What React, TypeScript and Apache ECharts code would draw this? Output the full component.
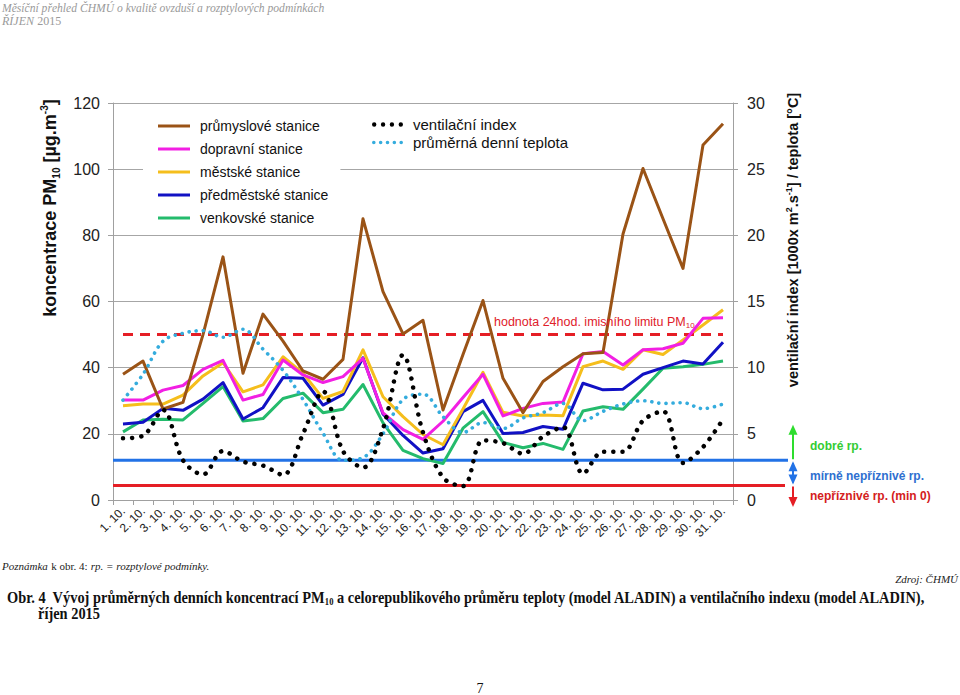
import React, { useEffect, useRef } from 'react';
import * as echarts from 'echarts';

const days = [
  '1. 10.', '2. 10.', '3. 10.', '4. 10.', '5. 10.', '6. 10.', '7. 10.', '8. 10.', '9. 10.', '10. 10.',
  '11. 10.', '12. 10.', '13. 10.', '14. 10.', '15. 10.', '16. 10.', '17. 10.', '18. 10.', '19. 10.', '20. 10.',
  '21. 10.', '22. 10.', '23. 10.', '24. 10.', '25. 10.', '26. 10.', '27. 10.', '28. 10.', '29. 10.', '30. 10.', '31. 10.',
];

// PM10 concentrations [µg.m-3] (left axis)
const prumyslove = [38, 42, 27.5, 29.5, 50, 73.5, 38.3, 56.2, 48, 39, 36.5, 42.5, 85, 63, 50.2, 54.3, 27.2, 44, 60.3, 36.8, 26.4, 35.8, 40.3, 44.2, 44.6, 80.4, 100.2, 85, 70, 107.3, 113.7];
const dopravni = [30.2, 30.2, 33.2, 34.6, 39.5, 42.2, 30.2, 31.9, 42.3, 37.8, 35.5, 37.3, 42.8, 26.3, 21.3, 18.3, 23.8, 31, 38, 25.4, 27.7, 29.2, 29.6, 44.2, 44.9, 40.8, 45.4, 45.7, 47.4, 54.9, 55.1];
const mestske = [28.5, 29, 29, 31.7, 37.5, 41.5, 32.7, 34.8, 43.3, 38.3, 30.7, 32.8, 45.4, 31.2, 25.2, 19.8, 16.7, 27.5, 38.6, 26.5, 25.4, 25.7, 25.5, 40.3, 42, 39.5, 45.4, 44, 48.4, 52.9, 57.5];
const predmestske = [23, 23.5, 27.7, 27.1, 30.5, 35.5, 24.5, 27.9, 37, 36.8, 28.7, 31.9, 43, 26, 19.5, 14.2, 15.5, 26.7, 30.1, 20.1, 20.4, 22.2, 21.4, 35.3, 33.3, 33.5, 38, 40, 42, 41.1, 47.7];
const venkovske = [20.6, 24.2, 24.4, 24.2, 29.2, 34.3, 23.9, 24.6, 30.7, 32.3, 26.4, 27.4, 34.9, 23.3, 15, 12.5, 11, 21.7, 26.7, 17.4, 15.8, 17.1, 15.3, 26.9, 28.2, 27.4, 33.5, 39.8, 40.3, 41, 42];

// right axis
const ventilacniIndex = [4.66, 4.86, 6.8, 3.0, 1.93, 3.7, 2.9, 2.6, 1.9, 5.0, 8.2, 3.7, 2.45, 5.4, 10.96, 5.1, 1.7, 1.05, 4.5, 4.3, 3.5, 4.8, 5.5, 2.0, 3.65, 3.65, 6.0, 6.7, 2.8, 4.0, 6.1];
const teplota = [7.55, 9.5, 12.0, 12.6, 12.8, 12.3, 12.9, 11.4, 9.8, 7.6, 5.05, 3.0, 3.2, 5.0, 7.6, 8.0, 6.3, 5.1, 5.85, 5.4, 6.2, 6.6, 7.3, 6.0, 6.7, 7.25, 7.5, 7.3, 7.35, 6.9, 7.25];

const limitPM10 = 50;
const ventDobre = 3; // boundary good / slightly unfavourable
const ventNepriznive = 1.1; // boundary slightly unfavourable / unfavourable
const ventTop = 5;

const SANS = '"Liberation Sans", Arial, sans-serif';
const SERIF = '"Liberation Serif", "Times New Roman", serif';

const C = {
  brown: '#9A5316',
  magenta: '#F21FE3',
  yellow: '#F5BE1C',
  blue: '#1111C4',
  green: '#24BB6C',
  cyan: '#34ACDD',
  black: '#000000',
  red: '#E51E25',
  lineBlue: '#2272E6',
  arrowGreen: '#2EDD2E',
};

const dotsIcon = (n: number, r: number, w: number) => {
  const step = (w - 2 * r) / (n - 1);
  let d = 'path://';
  for (let i = 0; i < n; i++) {
    const cx = r + i * step;
    d += `M${(cx - r).toFixed(2)},${r}a${r},${r} 0 1,0 ${2 * r},0a${r},${r} 0 1,0 ${-2 * r},0Z`;
  }
  return d;
};

export default function App() {
  const ref = useRef<HTMLDivElement>(null);

  useEffect(() => {
    const chart = echarts.init(ref.current!, null, { renderer: 'svg' });
    const solid = (name: string, data: number[], color: string, z: number, extra: any = {}) => ({
      name,
      type: 'line',
      data,
      yAxisIndex: 0,
      symbol: 'none',
      z,
      lineStyle: { color, width: 3, join: 'round' },
      itemStyle: { color },
      ...extra,
    });
    const dotted = (name: string, data: number[], color: string, z: number, gap: number, w: number) => ({
      name,
      type: 'line',
      data,
      yAxisIndex: 1,
      symbol: 'none',
      smooth: 0.35,
      z,
      lineStyle: { color, width: w, type: [0.1, gap], cap: 'round' },
      itemStyle: { color },
    });

    const pmNames = ['průmyslové stanice', 'dopravní stanice', 'městské stanice', 'předměstské stanice', 'venkovské stanice'];

    chart.setOption({
      animation: false,
      textStyle: { fontFamily: SANS },
      grid: { left: 113, right: 227, top: 103, bottom: 195 },
      legend: [
        {
          data: pmNames.map((name) => ({ name, icon: 'rect' })),
          orient: 'vertical',
          left: 143,
          top: 113,
          padding: [6, 12, 6, 15],
          backgroundColor: '#ffffff',
          itemWidth: 32,
          itemHeight: 3,
          itemGap: 9,
          selectedMode: false,
          textStyle: { fontSize: 14, color: '#111', fontFamily: SANS, padding: [0, 0, 0, 5] },
        },
        {
          data: [
            { name: 'ventilační index', icon: dotsIcon(4, 2.2, 31) },
            { name: 'průměrná denní teplota', icon: dotsIcon(5, 1.8, 31) },
          ],
          orient: 'vertical',
          left: 372,
          top: 117,
          padding: 0,
          itemWidth: 31,
          itemHeight: 4.4,
          itemGap: 3,
          selectedMode: false,
          textStyle: { fontSize: 15, color: '#111', fontFamily: SANS, padding: [0, 0, 0, 5] },
        },
      ],
      xAxis: {
        type: 'category',
        data: days,
        boundaryGap: true,
        axisLine: { lineStyle: { color: '#a0a0a0', width: 1 } },
        axisTick: { show: true, length: 5, lineStyle: { color: '#a0a0a0' } },
        axisLabel: { interval: 0, rotate: 45, fontSize: 12, color: '#222', margin: 9, fontFamily: SANS },
        splitLine: { show: false },
      },
      yAxis: [
        {
          type: 'value',
          min: 0,
          max: 120,
          interval: 20,
          axisLine: { show: true, lineStyle: { color: '#a0a0a0' } },
          axisTick: { show: true, length: 5, lineStyle: { color: '#a0a0a0' } },
          axisLabel: { fontSize: 16, color: '#222', margin: 13, fontFamily: SANS },
          splitLine: { show: true, lineStyle: { color: '#a6a6a6', width: 1 } },
        },
        {
          type: 'value',
          position: 'right',
          min: 0,
          max: 30,
          interval: 5,
          axisLine: { show: true, lineStyle: { color: '#a0a0a0' } },
          axisTick: { show: true, length: 5, lineStyle: { color: '#a0a0a0' } },
          axisLabel: { fontSize: 16, color: '#222', margin: 14, fontFamily: SANS },
          splitLine: { show: false },
        },
      ],
      series: [
        solid('venkovské stanice', venkovske, C.green, 2),
        solid('předměstské stanice', predmestske, C.blue, 3),
        solid('městské stanice', mestske, C.yellow, 4),
        solid('dopravní stanice', dopravni, C.magenta, 5),
        solid('průmyslové stanice', prumyslove, C.brown, 6, {
          markLine: {
            silent: true,
            symbol: ['none', 'none'],
            label: { show: false },
            lineStyle: { color: C.red, width: 3, type: [10, 7] },
            data: [[{ coord: [0, limitPM10] }, { coord: [days.length - 1, limitPM10] }]],
          },
        }),
        dotted('průměrná denní teplota', teplota, C.cyan, 7, 7, 3.6),
        dotted('ventilační index', ventilacniIndex, C.black, 8, 9, 4.5),
      ],
    });

    const yR = (v: number) => chart.convertToPixel({ yAxisIndex: 1 }, v) as number;
    const yL = (v: number) => chart.convertToPixel({ yAxisIndex: 0 }, v) as number;
    const gridLeft = 113;
    const ax = 793;

    const yGood = yR(ventDobre);
    const yBad = yR(ventNepriznive);
    const y0 = yR(0);
    const yTop = yR(ventTop);
    const yLim = yL(limitPM10);

    const head = (tipY: number, dir: number, color: string) => ({
      type: 'polygon',
      shape: { points: [[ax, tipY], [ax - 4.5, tipY + dir * 10], [ax + 4.5, tipY + dir * 10]] },
      style: { fill: color },
      z: 10,
    });
    const shaft = (a: number, b: number, color: string) => ({
      type: 'line',
      shape: { x1: ax, y1: a, x2: ax, y2: b },
      style: { stroke: color, lineWidth: 2 },
      z: 10,
    });

    chart.setOption({
      graphic: [
        // header
        {
          type: 'text', x: 2, y: 2,
          style: { text: 'Měsíční přehled ČHMÚ o kvalitě ovzduší a rozptylových podmínkách', fontFamily: SERIF, fontStyle: 'italic', fontSize: 11.6, fill: '#9a9a9a' },
        },
        {
          type: 'text', x: 2, y: 15,
          style: {
            text: '{i|ŘÍJEN} {n|2015}',
            rich: {
              i: { fontFamily: SERIF, fontStyle: 'italic', fontSize: 12, fill: '#9a9a9a' },
              n: { fontFamily: SERIF, fontSize: 12, fill: '#9a9a9a' },
            },
          },
        },
        // axis names
        {
          type: 'text', x: 50, y: 208, rotation: Math.PI / 2,
          style: {
            text: '{a|koncentrace PM}{sub|10}{a| [µg.m}{sup|-3}{a|]}',
            align: 'center', verticalAlign: 'middle',
            rich: {
              a: { fontFamily: SANS, fontWeight: 'bold', fontSize: 18, fill: '#111', lineHeight: 22 },
              sub: { fontFamily: SANS, fontWeight: 'bold', fontSize: 10, fill: '#111', verticalAlign: 'bottom', lineHeight: 22 },
              sup: { fontFamily: SANS, fontWeight: 'bold', fontSize: 10, fill: '#111', verticalAlign: 'top', lineHeight: 22 },
            },
          },
        },
        {
          type: 'text', x: 793, y: 240, rotation: Math.PI / 2,
          style: {
            text: '{a|ventilační index [1000x m}{sup|2}{a|.s}{sup|-1}{a|] / teplota [°C]}',
            align: 'center', verticalAlign: 'middle',
            rich: {
              a: { fontFamily: SANS, fontWeight: 'bold', fontSize: 14.5, fill: '#111', lineHeight: 18 },
              sup: { fontFamily: SANS, fontWeight: 'bold', fontSize: 9, fill: '#111', verticalAlign: 'top', lineHeight: 18 },
            },
          },
        },
        // limit label
        {
          type: 'text', x: 494, y: yLim - 13,
          style: {
            text: '{a|hodnota 24hod. imisního limitu PM}{sub|10}',
            verticalAlign: 'middle',
            rich: {
              a: { fontFamily: SANS, fontSize: 12.5, fill: '#E0202A', lineHeight: 16 },
              sub: { fontFamily: SANS, fontSize: 8, fill: '#E0202A', verticalAlign: 'bottom', lineHeight: 16 },
            },
          },
          z: 10,
        },
        // ventilation thresholds
        { type: 'line', shape: { x1: gridLeft, y1: yGood, x2: 788, y2: yGood }, style: { stroke: C.lineBlue, lineWidth: 3 }, z: 1 },
        { type: 'line', shape: { x1: gridLeft, y1: yBad, x2: 785, y2: yBad }, style: { stroke: C.red, lineWidth: 3 }, z: 1 },
        // arrows
        shaft(yGood - 1, yTop - 2, C.arrowGreen),
        head(yTop - 9, 1, C.arrowGreen),
        shaft(yGood + 3, yBad - 3, C.lineBlue),
        head(yGood + 1, 1, C.lineBlue),
        head(yBad - 1, -1, C.lineBlue),
        shaft(yBad + 1, y0 - 2, C.red),
        head(y0 + 7, -1, C.red),
        {
          type: 'text', x: 810, y: yR(4.1),
          style: { text: 'dobré rp.', verticalAlign: 'middle', fontFamily: SANS, fontWeight: 'bold', fontSize: 12, fill: '#33CC33' },
        },
        {
          type: 'text', x: 810, y: yR(1.85),
          style: { text: 'mírně nepříznivé rp.', verticalAlign: 'middle', fontFamily: SANS, fontWeight: 'bold', fontSize: 12, fill: '#2E6FD0' },
        },
        {
          type: 'text', x: 810, y: yR(0.3),
          style: { text: 'nepříznivé rp. (min 0)', verticalAlign: 'middle', fontFamily: SANS, fontWeight: 'bold', fontSize: 12, fill: '#D42020' },
        },
        // notes / caption
        {
          type: 'text', x: 2, y: 566,
          style: {
            text: '{i|Poznámka} {n|k obr. 4:} {i|rp. = rozptylové podmínky.}',
            verticalAlign: 'middle',
            rich: {
              i: { fontFamily: SERIF, fontStyle: 'italic', fontSize: 11, fill: '#222' },
              n: { fontFamily: SERIF, fontSize: 11, fill: '#222' },
            },
          },
        },
        {
          type: 'text', x: 958, y: 579,
          style: { text: 'Zdroj: ČHMÚ', align: 'right', verticalAlign: 'middle', fontFamily: SERIF, fontStyle: 'italic', fontSize: 11, fill: '#222' },
        },
        {
          type: 'text', x: 7, y: 597, scaleX: 0.9,
          style: {
            text: '{b|Obr. 4  Vývoj průměrných denních koncentrací PM}{s|10}{b| a celorepublikového průměru teploty (model ALADIN) a ventilačního indexu (model ALADIN),}',
            verticalAlign: 'middle',
            rich: {
              b: { fontFamily: SERIF, fontWeight: 'bold', fontSize: 16, fill: '#111', lineHeight: 19 },
              s: { fontFamily: SERIF, fontWeight: 'bold', fontSize: 9.5, fill: '#111', verticalAlign: 'bottom', lineHeight: 19 },
            },
          },
        },
        {
          type: 'text', x: 38, y: 613, scaleX: 0.9,
          style: { text: 'říjen 2015', verticalAlign: 'middle', fontFamily: SERIF, fontWeight: 'bold', fontSize: 16, fill: '#111' },
        },
        {
          type: 'text', x: 480, y: 688,
          style: { text: '7', align: 'center', verticalAlign: 'middle', fontFamily: SERIF, fontSize: 14, fill: '#111' },
        },
      ],
    });

    return () => chart.dispose();
  }, []);

  return (
    <div
      ref={ref}
      style={{ position: 'fixed', left: 0, top: 0, width: 960, height: 695, background: '#ffffff' }}
    />
  );
}
